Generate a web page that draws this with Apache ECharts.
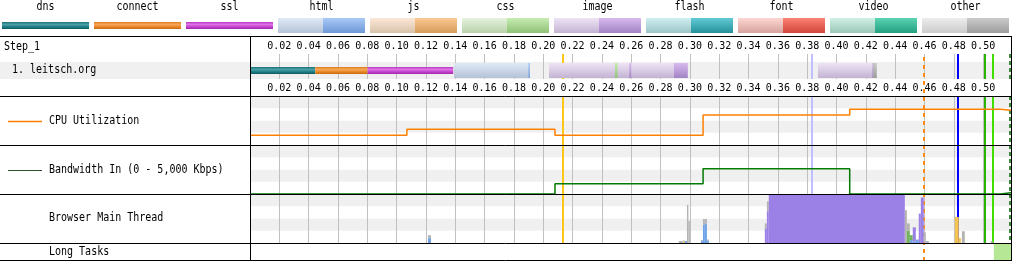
<!DOCTYPE html>
<html><head><meta charset="utf-8">
<script src="https://cdn.jsdelivr.net/npm/echarts@6/dist/echarts.min.js"></script>
<style>html,body{margin:0;padding:0;background:#fff}#c{width:1012px;height:261px}</style>
</head><body><div id="c"></div>
<script>
// ---------------- data ----------------
const legendTypes = ['dns','connect','ssl','html','js','css','image','flash','font','video','other'];
const tickStep = 0.02;
const timeMax = 0.519;
const stepLabel = 'Step_1';
const requestLabels = ['1. leitsch.org'];
const sectionLabels = ['CPU Utilization','Bandwidth In (0 - 5,000 Kbps)','Browser Main Thread','Long Tasks'];

// request row segments (connection view)
const segTypes = ['dns','connect','ssl','html','html','image','css','image','image','image','image','other'];
const segPhase = ['','','','ttfb','dl','ttfb','dl','dl','dl','ttfb','dl','dl'];
const segStart = [0, 0.0445, 0.0802, 0.1391, 0.1898, 0.2039, 0.2489, 0.2587, 0.2891, 0.3873, 0.4243, 0.4248];
const segEnd   = [0.0445, 0.0802, 0.1386, 0.1898, 0.1909, 0.2891, 0.2507, 0.2600, 0.2986, 0.4243, 0.4250, 0.4275];

// CPU utilization (%)
const cpuTimes  = [0, 0.107, 0.208, 0.309, 0.409, 0.5118, 0.519];
const cpuValues = [20, 32, 20, 61, 73, 71, 71];

// Bandwidth in (Kbps)
const bwTimes  = [0, 0.208, 0.309, 0.409, 0.5118, 0.519];
const bwValues = [0, 1040, 2570, 0, 120, 120];

// Browser main thread slices (% busy per category)
const mtStart  = [0.1214,0.2925,0.2952,0.2966,0.2980,0.2990,0.3075,0.3089,0.3102,0.3116,0.3511,0.3525,0.3538,0.4466,0.4480,0.4500,0.4520,0.4541,0.4561,0.4575,0.4595,0.4609,0.4807,0.4834,0.4855,0.5052];
const mtEnd    = [0.1234,0.2952,0.2966,0.2980,0.2990,0.3000,0.3089,0.3102,0.3116,0.3130,0.3525,0.3538,0.4466,0.4480,0.4500,0.4520,0.4541,0.4561,0.4575,0.4595,0.4609,0.4630,0.4834,0.4848,0.4875,0.5066];
const mtParse  = [10,0,0,4,0,0,4,37,40,4,0,0,0,0,0,6,3,7,0,0,0,0,0,0,0,0];
const mtScript = [0,0,3,0,0,0,0,0,0,0,0,0,0,0,0,0,0,0,0,0,0,0,53,10,0,0];
const mtLayout = [0,0,0,0,0,0,0,0,0,0,30,65,100,0,0,0,29,0,60,93,0,0,0,0,0,0];
const mtPaint  = [0,0,0,0,0,0,0,0,0,0,0,0,0,0,25,10,0,0,0,0,0,0,0,0,0,0];
const mtOther  = [6,4,2,0,78,45,2,12,9,3,10,20,0,67,15,0,0,0,0,0,22,4,0,0,24,4];

// Long tasks
const longTaskStart = [0.5073];
const longTaskEnd   = [0.519];

// Page events (vertical markers)
const eventNames = ['domInteractive','domContentLoaded','lcp','docComplete','startRender','onload','fullyLoaded'];
const eventTimes = [0.2134, 0.3834, 0.4595, 0.4827, 0.5011, 0.5066, 0.5182];

// ---------------- styles ----------------
const FONT = 'DejaVu Sans Mono';
const FS = 10;
const eventStyle = {
  domInteractive:   {color:'#ffc61a', dash:null, w:2},
  domContentLoaded: {color:'#c0c0ff', dash:null, w:2},
  lcp:              {color:'#ff8c1a', dash:[4,4], w:2},
  docComplete:      {color:'#0000ff', dash:null, w:2},
  startRender:      {color:'#28b400', dash:null, w:2},
  onload:           {color:'#44dd00', dash:null, w:2},
  fullyLoaded:      {color:'#006400', dash:[4,3], w:1.5}
};
const thinColors = {
  dns:     ['#1b7379','#4aa0a5','#23838a','#0c5a60'],
  connect: ['#e27c1c','#f6a757','#ea8a2c','#c96a10'],
  ssl:     ['#b73ac3','#df73e6','#c747d1','#a029ab']
};
const boxColors = {
  html:  {light:['#e0e9f6','#b4c3d7'], dark:['#a9c9f7','#6e98d6']},
  js:    {light:['#fbe8d6','#d8c2ab'], dark:['#fcc891','#d59c5c']},
  css:   {light:['#e6f3de','#b9d1ab'], dark:['#c6ecb2','#8fc176']},
  image: {light:['#eee4f5','#c3b3d2'], dark:['#d8baf0','#a283c4']},
  flash: {light:['#d0eff1','#9bc5c8'], dark:['#62cad4','#25909b']},
  font:  {light:['#fdd6d2','#d6a39e'], dark:['#fc8374','#d2443a']},
  video: {light:['#d0efe5','#9bc6b8'], dark:['#5bd3b2','#23a080']},
  other: {light:['#ededed','#cbcbcb'], dark:['#cacaca','#9d9d9d']}
};
const mtColors = ['#6fa2e6','#f3c452','#9b80e5','#70b35c','#b4b4b4'];
const mtCats = [mtParse, mtScript, mtLayout, mtPaint, mtOther];

function thinFill(type){
  const c = thinColors[type];
  return new echarts.graphic.LinearGradient(0,0,0,1,[
    {offset:0,color:c[0]},{offset:0.35,color:c[1]},{offset:0.65,color:c[2]},{offset:1,color:c[3]}]);
}
function boxFill(type, dark){
  const c = boxColors[type][dark ? 'dark' : 'light'];
  return new echarts.graphic.LinearGradient(0,0,0,1,[{offset:0,color:c[0]},{offset:1,color:c[1]}]);
}

// ---------------- layout ----------------
const PL = 250, PW = 761, PR = PL + PW;
const rowTop = 54, rowH = 25;
const cpuTop = 96, bwTop = 145, mtTop = 194, ltTop = 243, secH = 49, ltH = 17, bottomY = 260;

// ---------------- graphics ----------------
const graphics = [];
const fontStr = FS + 'px "' + FONT + '"';
legendTypes.forEach((t,i)=>{
  const x = 2 + 92*i;
  graphics.push({type:'text', x: x+43.5, y: 7, scaleY:1.2, style:{text:t, font:fontStr, fill:'#000', align:'center', verticalAlign:'middle'}});
  if (thinColors[t]) {
    graphics.push({type:'rect', shape:{x:x, y:22, width:87, height:7}, style:{fill:thinFill(t)}});
  } else {
    graphics.push({type:'rect', shape:{x:x, y:18, width:45, height:15}, style:{fill:boxFill(t,false)}});
    graphics.push({type:'rect', shape:{x:x+45, y:18, width:42, height:15}, style:{fill:boxFill(t,true)}});
  }
});
// request row background
graphics.push({type:'rect', z:-10, shape:{x:0, y:62, width:PR, height:17}, style:{fill:'#f0f0f0'}});
// labels
const txt = (s,x,y)=>({type:'text', z:50, x, y, scaleY:1.2, style:{text:s, font:fontStr, fill:'#000', align:'left', verticalAlign:'middle'}});
graphics.push(txt(stepLabel, 4, 47));
graphics.push(txt(requestLabels[0], 12, 70));
graphics.push(txt(sectionLabels[0], 49, 121));
graphics.push(txt(sectionLabels[1], 49, 170));
graphics.push(txt(sectionLabels[2], 49, 218));
graphics.push(txt(sectionLabels[3], 49, 252));
graphics.push({type:'line', z:50, shape:{x1:8,y1:121.5,x2:42,y2:121.5}, style:{stroke:'#ff8000', lineWidth:1.5}});
graphics.push({type:'line', z:50, shape:{x1:8,y1:170.5,x2:42,y2:170.5}, style:{stroke:'#2f4f2f', lineWidth:1.2}});
// borders
[36, 96, 145, 194, 243, bottomY].forEach(y=>{
  graphics.push({type:'line', z:100, shape:{x1:0,y1:y+0.5,x2:PR+0.5,y2:y+0.5}, style:{stroke:'#000', lineWidth:1}});
});
[PL, PR].forEach(x=>{
  graphics.push({type:'line', z:100, shape:{x1:x+0.5,y1:36,x2:x+0.5,y2:bottomY+1}, style:{stroke:'#000', lineWidth:1}});
});

// ---------------- axes helpers ----------------
const tickFmt = v => (v < 0.001 || v > 0.505) ? '' : v.toFixed(2);
function xAx(grid, opts){
  return Object.assign({type:'value', gridIndex:grid, min:0, max:timeMax, interval:tickStep,
    axisLine:{show:false}, axisTick:{show:false}, axisLabel:{show:false},
    splitLine:{show:false}}, opts||{});
}
const splitLn = {show:true, lineStyle:{color:'#c0c0c0', width:1}};
const lbl = (m)=>({show:true, margin:m, formatter:tickFmt, fontFamily:FONT, fontSize:FS, color:'#000', showMinLabel:false, showMaxLabel:false});
function yAx(grid, max, interval, bands){
  return {type:'value', gridIndex:grid, min:0, max:max, interval:interval,
    axisLine:{show:false}, axisTick:{show:false}, axisLabel:{show:false}, splitLine:{show:false},
    splitArea: bands ? {show:true, areaStyle:{color:['#ffffff','#f0f0f0']}} : {show:false}};
}

// ---------------- render functions ----------------
function renderRequest(params, api){
  const i = api.value(2);
  const type = segTypes[i], phase = segPhase[i];
  const a = api.coord([api.value(0), 0]), b = api.coord([api.value(1), 0]);
  const cs = params.coordSys;
  const thin = phase === '';
  const y = cs.y + (thin ? 13 : 9), h = thin ? 7 : 15;
  return {type:'rect', shape:{x:a[0], y:y, width:Math.max(b[0]-a[0], 1), height:h},
    style:{fill: thin ? thinFill(type) : boxFill(type, phase === 'dl')}};
}
function renderMT(params, api){
  const i = api.value(2);
  const x0 = api.coord([api.value(0), 0])[0], x1 = api.coord([api.value(1), 0])[0];
  let acc = 0; const children = [];
  mtCats.forEach((arr,k)=>{
    const v = arr[i]; if (!v) return;
    const yb = api.coord([0, acc])[1], yt = api.coord([0, acc+v])[1];
    acc += v;
    children.push({type:'rect', shape:{x:x0, y:yt, width:Math.max(x1-x0,1), height:yb-yt}, style:{fill:mtColors[k]}});
  });
  return {type:'group', children};
}
function renderLT(params, api){
  const a = api.coord([api.value(0), 0]), b = api.coord([api.value(1), 1]);
  return {type:'rect', shape:{x:a[0], y:b[1]+1, width:b[0]-a[0], height:a[1]-b[1]-1}, style:{fill:'#b5e795'}};
}
function renderEvent(params, api){
  const name = eventNames[api.value(1)];
  const st = eventStyle[name];
  const x = Math.round(api.coord([api.value(0), 0])[0]);
  const cs = params.coordSys;
  const style = {stroke:st.color, lineWidth:st.w, lineDash:st.dash || null};
  if (name === 'lcp') {
    return {type:'line', shape:{x1:x, y1:cs.y+3, x2:x, y2:cs.y+cs.height}, style};
  }
  return {type:'group', children:[
    {type:'line', shape:{x1:x, y1:cs.y, x2:x, y2:cs.y+rowH}, style},
    {type:'line', shape:{x1:x, y1:cpuTop, x2:x, y2:ltTop}, style}
  ]};
}

// ---------------- option ----------------
const option = {
  animation:false,
  graphic:{elements:graphics},
  grid:[
    {left:PL, top:rowTop, width:PW, height:rowH},
    {left:PL, top:cpuTop, width:PW, height:secH},
    {left:PL, top:bwTop, width:PW, height:secH},
    {left:PL, top:mtTop, width:PW, height:secH},
    {left:PL, top:ltTop, width:PW, height:ltH},
    {left:PL, top:rowTop, width:PW, height:261-rowTop}
  ],
  xAxis:[
    xAx(0, {position:'top', axisLabel:lbl(3), splitLine:splitLn}),
    xAx(0, {position:'bottom', axisLabel:lbl(4)}),
    xAx(1, {splitLine:splitLn}),
    xAx(2, {splitLine:splitLn}),
    xAx(3, {splitLine:splitLn}),
    xAx(4),
    xAx(5)
  ],
  yAxis:[
    yAx(0, 1, 1, false),
    yAx(1, 100, 25, true),
    yAx(2, 5000, 1250, true),
    yAx(3, 100, 25, true),
    yAx(4, 1, 1, false),
    yAx(5, 1, 1, false)
  ],
  series:[
    {type:'custom', xAxisIndex:6, yAxisIndex:5, z:1, clip:false, renderItem:renderEvent,
      data:eventTimes.map((t,i)=>[t,i]), encode:{x:0}},
    {type:'custom', xAxisIndex:0, yAxisIndex:0, z:3, renderItem:renderRequest,
      data:segStart.map((s,i)=>[s, segEnd[i], i]), encode:{x:[0,1]}},
    {type:'line', xAxisIndex:2, yAxisIndex:1, z:3, step:'end', symbol:'none',
      lineStyle:{color:'#ff8000', width:1.5}, data:cpuTimes.map((t,i)=>[t,cpuValues[i]])},
    {type:'line', xAxisIndex:3, yAxisIndex:2, z:3, step:'end', symbol:'none',
      lineStyle:{color:'#007a00', width:1.5}, data:bwTimes.map((t,i)=>[t,bwValues[i]])},
    {type:'custom', xAxisIndex:4, yAxisIndex:3, z:3, renderItem:renderMT,
      data:mtStart.map((s,i)=>[s, mtEnd[i], i]), encode:{x:[0,1]}},
    {type:'custom', xAxisIndex:5, yAxisIndex:4, z:3, renderItem:renderLT,
      data:longTaskStart.map((s,i)=>[s, longTaskEnd[i]]), encode:{x:[0,1]}}
  ]
};
const chart = echarts.init(document.getElementById('c'), null, {renderer:'canvas'});
chart.setOption(option);
</script>
</body></html>
